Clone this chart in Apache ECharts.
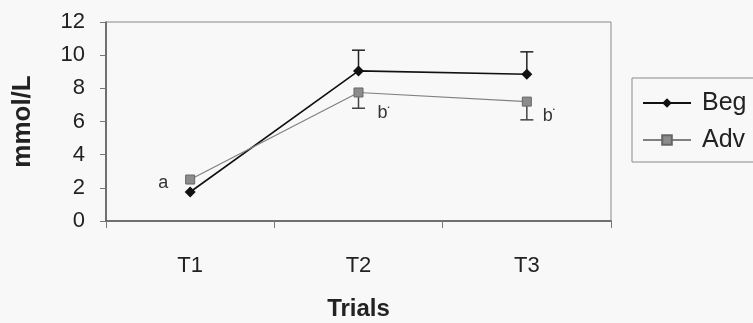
<!DOCTYPE html>
<html><head><meta charset="utf-8">
<script src="https://cdn.jsdelivr.net/npm/echarts@6/dist/echarts.min.js"></script>
<style>html,body{margin:0;padding:0;background:#f8f8f8}#c{width:753px;height:323px}</style>
</head><body><div id="c"></div>
<script>
var categories = ['T1', 'T2', 'T3'];
var begValues = [1.75, 9.05, 8.85];
var advValues = [2.5, 7.75, 7.2];
var begErrUpper = [null, 10.3, 10.2];
var advErrLower = [null, 6.8, 6.1];
var advLabels = ['a', 'b', 'b'];
var yTicks = [0, 2, 4, 6, 8, 10, 12];

var FONT = '"Liberation Sans", Arial, sans-serif';

function errData(vals, ends) {
  var out = [];
  for (var i = 0; i < vals.length; i++) {
    if (ends[i] != null) out.push([i, vals[i], ends[i]]);
  }
  return out;
}
function errRender(color) {
  return function (params, api) {
    var x = api.value(0);
    var p0 = api.coord([x, api.value(1)]);
    var p1 = api.coord([x, api.value(2)]);
    var hw = 6.5;
    var st = { stroke: color, lineWidth: 1.5 };
    return { type: 'group', children: [
      { type: 'line', shape: { x1: p0[0], y1: p0[1], x2: p1[0], y2: p1[1] }, style: st },
      { type: 'line', shape: { x1: p1[0] - hw, y1: p1[1], x2: p1[0] + hw, y2: p1[1] }, style: st }
    ]};
  };
}

var advLabelOffsets = [
  { position: 'left', offset: [-12, 3] },
  { position: 'right', offset: [9, 21] },
  { position: 'right', offset: [6, 14] }
];
var advData = advValues.map(function (v, i) {
  var lo = advLabelOffsets[i];
  return {
    value: v,
    label: {
      show: true, position: lo.position, offset: lo.offset,
      formatter: i === 0 ? '{m|' + advLabels[i] + '}' : '{m|' + advLabels[i] + '}{s|•}',
      rich: {
        m: { fontSize: 18, color: '#333', fontFamily: FONT },
        s: { fontSize: 6, color: '#333', padding: [0, 0, 13, 0] }
      }
    }
  };
});

var chart = echarts.init(document.getElementById('c'));
chart.setOption({
  backgroundColor: '#f8f8f8',
  animation: false,
  grid: { left: 106, right: 142, top: 22, bottom: 102, containLabel: false, outerBoundsMode: 'none', show: true, borderColor: '#8a8a8a', borderWidth: 1, backgroundColor: 'transparent' },
  legend: {
    orient: 'vertical', left: 632, top: 78,
    padding: [11, 12, 8, 10],
    itemGap: 9, itemWidth: 48, itemHeight: 12,
    borderColor: '#8a8a8a', borderWidth: 1,
    textStyle: { fontSize: 25, color: '#222', fontFamily: FONT, lineHeight: 28, padding: [0, 0, 0, 6] },
    data: ['Beg', 'Adv']
  },
  xAxis: {
    type: 'category', data: categories, boundaryGap: true,
    axisLine: { lineStyle: { color: '#555', width: 1.5 } },
    axisTick: { show: true, inside: false, length: 7, lineStyle: { color: '#777' } },
    axisLabel: { fontSize: 22, color: '#222', fontFamily: FONT, margin: 34 },
    name: 'Trials', nameLocation: 'middle', nameGap: 76,
    nameTextStyle: { fontSize: 24, fontWeight: 'bold', color: '#222', fontFamily: FONT }
  },
  yAxis: {
    type: 'value', min: yTicks[0], max: yTicks[yTicks.length - 1], interval: 2,
    axisLine: { show: true, lineStyle: { color: '#555', width: 1.5 } },
    axisTick: { show: true, length: 6, lineStyle: { color: '#777' } },
    splitLine: { show: false },
    axisLabel: { fontSize: 22, color: '#222', fontFamily: FONT, margin: 21 },
    name: 'mmol/L', nameLocation: 'middle', nameGap: 70, nameRotate: 90,
    nameTextStyle: { fontSize: 26, fontWeight: 'bold', color: '#222', fontFamily: FONT }
  },
  series: [
    { type: 'custom', name: 'begErr', renderItem: errRender('#222'), data: errData(begValues, begErrUpper), z: 1, silent: true },
    { type: 'custom', name: 'advErr', renderItem: errRender('#444'), data: errData(advValues, advErrLower), z: 1, silent: true },
    {
      name: 'Beg', type: 'line', data: begValues, symbol: 'diamond', symbolSize: 11,
      lineStyle: { color: '#111', width: 1.6 }, itemStyle: { color: '#111' }, z: 3
    },
    {
      name: 'Adv', type: 'line', data: advData, symbol: 'rect', symbolSize: 9,
      lineStyle: { color: '#808080', width: 1.2 }, itemStyle: { color: '#8c8c8c', borderColor: '#666', borderWidth: 1 }, z: 4
    }
  ]
});
</script></body></html>
